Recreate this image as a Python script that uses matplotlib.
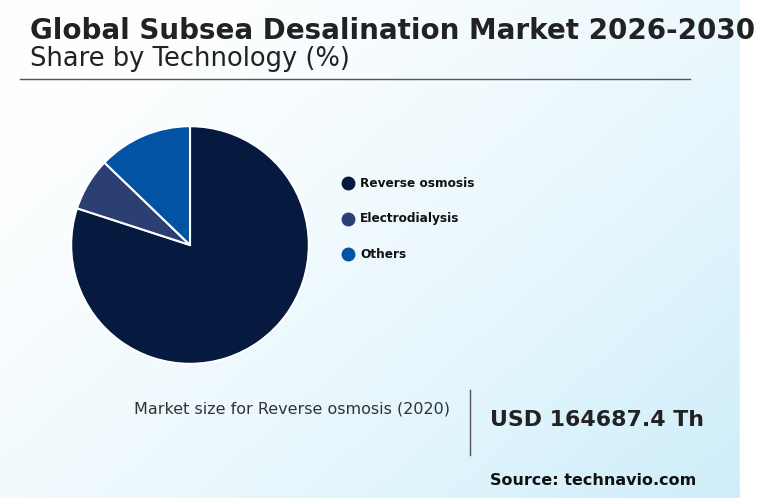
import numpy as np
import matplotlib
matplotlib.use("Agg")
import matplotlib.pyplot as plt
from matplotlib.lines import Line2D

categories = ["Reverse osmosis", "Electrodialysis", "Others"]
shares = [80.0, 7.2, 12.8]
colors = ["#061a40", "#2b3f73", "#0353a4"]

W, H = 761, 498
fig = plt.figure(figsize=(W/100, H/100), dpi=100)

# background gradient: white top-left -> light blue bottom-right
bg = fig.add_axes([0, 0, 1, 1], zorder=-10)
x = np.linspace(0, 1, 200)
y = np.linspace(0, 1, 200)
X, Y = np.meshgrid(x, y)
t = np.clip((X * 0.8 + (1 - Y) * 0.6) / 1.4, 0, 1) ** 1.6
c0 = np.array([1.0, 1.0, 1.0]); c1 = np.array([0.80, 0.93, 0.98])
img = c0 + (c1 - c0) * t[..., None]
bg.imshow(img, origin="lower", extent=[0, 1, 0, 1], aspect="auto")
bg.add_patch(plt.Rectangle((740/W, 0), 1, 1, color="white", transform=bg.transAxes))
bg.set_xlim(0, 1); bg.set_ylim(0, 1)
bg.axis("off")

fig.text(30/W, 1-31/H, "Global Subsea Desalination Market 2026-2030", fontsize=20,
         fontweight="bold", color="#222222", va="center")
fig.text(30/W, 1-59/H, "Share by Technology (%)", fontsize=18.5, color="#222222", va="center")
fig.add_artist(Line2D([20/W, 690/W], [1-79/H, 1-79/H], color="#555555", lw=1))

ax = fig.add_axes([70/W, 1-365/H, 240/W, 240/H])
ax.pie(shares, colors=colors, startangle=90, counterclock=False, radius=1,
       wedgeprops=dict(edgecolor="white", linewidth=1.5))
ax.set_xlim(-1.01, 1.01); ax.set_ylim(-1.01, 1.01)
ax.set_aspect("equal")

for i, (cat, col) in enumerate(zip(categories, colors)):
    yy = 1 - (183 + i * 35.5) / H
    fig.add_artist(Line2D([348/W], [yy], marker="o", markersize=9, color=col, lw=0))
    fig.text(360/W, yy, cat, fontsize=8.7, fontweight="bold", color="#111111", va="center")

fig.text(450/W, 1-409/H, "Market size for Reverse osmosis (2020)", fontsize=11.5,
         color="#333333", ha="right", va="center")
fig.add_artist(Line2D([470/W, 470/W], [1-390/H, 1-455/H], color="#555555", lw=1))
fig.text(490/W, 1-420/H, "USD 164687.4 Th", fontsize=15.8, fontweight="bold",
         color="#222222", va="center")
fig.text(490/W, 1-480/H, "Source: technavio.com", fontsize=11.5, fontweight="bold",
         color="#111111", va="center")

fig.savefig("out.png", dpi=100)
